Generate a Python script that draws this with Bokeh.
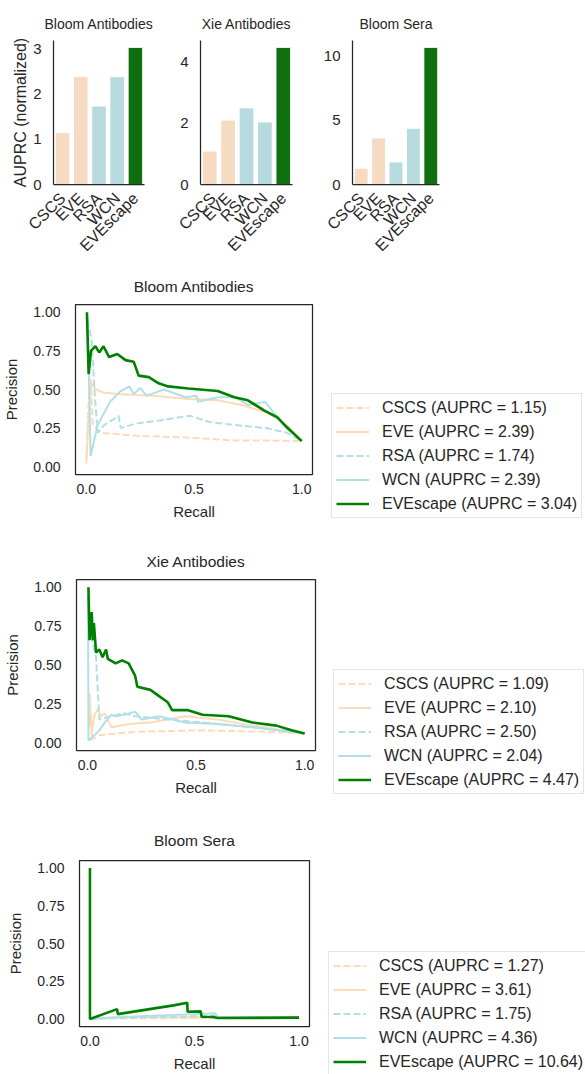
import math
from bokeh.plotting import figure
from bokeh.models import Legend, LegendItem, Range1d, FixedTicker, NumeralTickFormatter
from bokeh.layouts import column, row
from bokeh.embed import file_html
from bokeh.resources import INLINE

# ---------------- data ----------------
methods = ["CSCS", "EVE", "RSA", "WCN", "EVEscape"]
panel_titles = ["Bloom Antibodies", "Xie Antibodies", "Bloom Sera"]
bloom_ab_auprc = [1.15, 2.39, 1.74, 2.39, 3.04]
xie_ab_auprc = [1.09, 2.10, 2.50, 2.04, 4.47]
bloom_sera_auprc = [1.27, 3.61, 1.75, 4.36, 10.64]
bar_yticks = [[0, 1, 2, 3], [0, 2, 4], [0, 5, 10]]

# Bloom antibodies PR curves
ba_cscs_r = [0.0, 0.012, 0.02, 0.03, 0.07, 0.15, 0.23, 0.35, 0.46, 0.58, 0.69, 0.85, 1.0]
ba_cscs_p = [0.05, 0.45, 0.57, 0.27, 0.22, 0.21, 0.20, 0.195, 0.19, 0.18, 0.17, 0.17, 0.165]
ba_eve_r = [0.0, 0.01, 0.018, 0.026, 0.045, 0.08, 0.16, 0.31, 0.46, 0.61, 0.72, 0.84, 0.93, 1.0]
ba_eve_p = [0.02, 0.30, 0.45, 0.54, 0.50, 0.48, 0.47, 0.46, 0.44, 0.43, 0.40, 0.35, 0.27, 0.17]
ba_rsa_r = [0.005, 0.015, 0.026, 0.04, 0.053, 0.083, 0.13, 0.15, 0.16, 0.23, 0.34, 0.48, 0.57, 0.69, 0.84, 0.93, 1.0]
ba_rsa_p = [0.95, 0.89, 0.80, 0.45, 0.22, 0.27, 0.31, 0.33, 0.25, 0.28, 0.30, 0.33, 0.29, 0.27, 0.25, 0.22, 0.17]
ba_wcn_r = [0.005, 0.012, 0.02, 0.053, 0.11, 0.16, 0.20, 0.22, 0.25, 0.28, 0.36, 0.46, 0.51, 0.52, 0.61, 0.69, 0.75, 0.83, 0.87, 0.93, 1.0]
ba_wcn_p = [0.98, 0.60, 0.07, 0.27, 0.42, 0.49, 0.52, 0.47, 0.51, 0.46, 0.50, 0.45, 0.46, 0.42, 0.45, 0.45, 0.40, 0.42, 0.35, 0.25, 0.17]
ba_eves_r = [0.003, 0.011, 0.022, 0.042, 0.06, 0.08, 0.106, 0.144, 0.182, 0.22, 0.243, 0.29, 0.336, 0.38, 0.473, 0.61, 0.687, 0.75, 0.825, 0.887, 0.93, 1.0]
ba_eves_p = [1.0, 0.60, 0.75, 0.78, 0.74, 0.78, 0.71, 0.73, 0.69, 0.68, 0.59, 0.58, 0.54, 0.52, 0.506, 0.49, 0.45, 0.43, 0.365, 0.32, 0.257, 0.166]

# Xie antibodies PR curves
xa_cscs_r = [0.01, 0.06, 0.22, 0.53, 0.83, 1.0]
xa_cscs_p = [0.015, 0.05, 0.07, 0.08, 0.07, 0.06]
xa_eve_r = [0.008, 0.01, 0.02, 0.03, 0.05, 0.06, 0.08, 0.11, 0.19, 0.29, 0.45, 0.60, 0.76, 1.0]
xa_eve_p = [0.10, 0.32, 0.04, 0.17, 0.22, 0.17, 0.19, 0.10, 0.12, 0.13, 0.17, 0.15, 0.11, 0.06]
xa_rsa_r = [0.005, 0.025, 0.04, 0.055, 0.11, 0.17, 0.22, 0.37, 0.53, 0.68, 1.0]
xa_rsa_p = [0.82, 0.64, 0.55, 0.15, 0.17, 0.19, 0.17, 0.15, 0.13, 0.11, 0.06]
xa_wcn_r = [0.003, 0.005, 0.05, 0.08, 0.11, 0.13, 0.17, 0.22, 0.25, 0.33, 0.45, 0.60, 0.76, 1.0]
xa_wcn_p = [0.95, 0.015, 0.07, 0.13, 0.18, 0.17, 0.18, 0.20, 0.15, 0.17, 0.13, 0.12, 0.10, 0.06]
xa_eves_r = [0.005, 0.01, 0.02, 0.025, 0.03, 0.04, 0.055, 0.07, 0.086, 0.094, 0.13, 0.16, 0.19, 0.22, 0.23, 0.29, 0.33, 0.37, 0.39, 0.46, 0.53, 0.65, 0.76, 0.87, 0.94, 1.0]
xa_eves_p = [1.0, 0.66, 0.84, 0.66, 0.77, 0.58, 0.60, 0.55, 0.60, 0.54, 0.51, 0.53, 0.51, 0.43, 0.36, 0.34, 0.30, 0.26, 0.21, 0.21, 0.18, 0.17, 0.13, 0.11, 0.08, 0.06]

# Bloom sera PR curves
bs_cscs_r = [0.0, 0.5, 1.0]
bs_cscs_p = [0.004, 0.006, 0.009]
bs_eve_r = [0.0, 0.2, 0.5, 1.0]
bs_eve_p = [0.003, 0.012, 0.012, 0.009]
bs_rsa_r = [0.0, 0.3, 0.6, 0.62, 1.0]
bs_rsa_p = [0.002, 0.012, 0.022, 0.008, 0.009]
bs_wcn_r = [0.0, 0.1, 0.3, 0.5, 0.6, 0.61, 1.0]
bs_wcn_p = [0.0, 0.01, 0.022, 0.032, 0.037, 0.012, 0.009]
bs_eves_r = [0.0, 0.0, 0.13, 0.133, 0.40, 0.465, 0.467, 0.53, 0.534, 0.59, 0.61, 1.0]
bs_eves_p = [1.0, 0.0, 0.065, 0.032, 0.09, 0.108, 0.048, 0.05, 0.015, 0.013, 0.006, 0.009]

auprc_labels = [bloom_ab_auprc, xie_ab_auprc, bloom_sera_auprc]
curves = [
    [(ba_cscs_r, ba_cscs_p), (ba_eve_r, ba_eve_p), (ba_rsa_r, ba_rsa_p), (ba_wcn_r, ba_wcn_p), (ba_eves_r, ba_eves_p)],
    [(xa_cscs_r, xa_cscs_p), (xa_eve_r, xa_eve_p), (xa_rsa_r, xa_rsa_p), (xa_wcn_r, xa_wcn_p), (xa_eves_r, xa_eves_p)],
    [(bs_cscs_r, bs_cscs_p), (bs_eve_r, bs_eve_p), (bs_rsa_r, bs_rsa_p), (bs_wcn_r, bs_wcn_p), (bs_eves_r, bs_eves_p)],
]

# ---------------- style ----------------
FONT = "Liberation Sans"
TXT = "#262626"
bar_colors = ["#F6DBC2", "#F6DBC2", "#B7DADF", "#B7DADF", "#107010"]
line_colors = ["#FFDAB9", "#FFDAB9", "#B0E0E6", "#B0E0E6", "#008000"]
line_dashes = ["7 3", "solid", "7 3", "solid", "solid"]
line_widths = [2, 2, 2, 2, 2.6]


def style_common(p, title_standoff, title_size="14px", tick_size="14px", label_size="15px"):
    p.title.text_font = FONT
    p.title.text_font_size = title_size
    p.title.text_font_style = "normal"
    p.title.text_color = TXT
    p.title.align = "center"
    p.title.vertical_align = "top"
    p.title.standoff = title_standoff
    p.xgrid.visible = False
    p.ygrid.visible = False
    for ax in (p.xaxis[0], p.yaxis[0]):
        ax.major_tick_line_color = None
        ax.minor_tick_line_color = None
        ax.major_label_text_font = FONT
        ax.major_label_text_font_size = tick_size
        ax.major_label_text_color = TXT
        ax.axis_label_text_font = FONT
        ax.axis_label_text_font_size = label_size
        ax.axis_label_text_font_style = "normal"
        ax.axis_label_text_color = TXT
    p.background_fill_color = "white"
    p.border_fill_color = "white"


# ---------------- bar charts ----------------
bar_data = [bloom_ab_auprc, xie_ab_auprc, bloom_sera_auprc]
bar_geom = [(175, 53, 31), (145, 25, 28), (265, 27, 146)]
bar_figs = []
for i in range(3):
    w, ml, mr = bar_geom[i]
    ymax = max(bar_data[i]) * 1.05
    p = figure(width=w, height=263, x_range=methods, y_range=Range1d(0, ymax),
               min_border_left=ml, min_border_right=mr, min_border_top=40, min_border_bottom=79,
               output_backend="svg", toolbar_location=None, title=panel_titles[i])
    p.vbar(x=methods, top=bar_data[i], width=0.8, fill_color=bar_colors, line_color="white", line_width=1)
    style_common(p, 14, tick_size="15px", label_size="16px")
    p.outline_line_color = None
    p.x_range.range_padding = 0
    for ax in (p.xaxis[0], p.yaxis[0]):
        ax.axis_line_color = TXT
        ax.axis_line_width = 1.25
        ax.major_label_standoff = 6
    p.xaxis.major_label_text_font_size = "16px"
    p.xaxis.major_label_standoff = 5
    p.yaxis.ticker = FixedTicker(ticks=bar_yticks[i])
    p.xaxis.major_label_orientation = math.pi / 4
    if i == 0:
        p.yaxis.axis_label = "AUPRC (normalized)"
        p.yaxis.axis_label_standoff = 1
    bar_figs.append(p)

# ---------------- PR curves ----------------
pr_geom = [
    # height, left, right, top, bottom, title standoff, legend (x, y)
    (278, 73, 8, 41, 67, 15, (11, 23)),
    (277, 76, 5, 38, 68, 15, (13, 24)),
    (256, 79, 11, 42, 44, 19, (8, -2)),
]
rows = []
for i in range(3):
    h, ml, mr, mt, mb, ts, loc = pr_geom[i]
    p = figure(width=320, height=h, x_range=Range1d(-0.05, 1.05), y_range=Range1d(-0.05, 1.05),
               min_border_left=ml, min_border_right=mr, min_border_top=mt, min_border_bottom=mb,
               output_backend="svg", toolbar_location=None, title=panel_titles[i])
    q = figure(width=265, height=h, x_range=Range1d(0, 1), y_range=Range1d(0, 1),
               x_axis_type=None, y_axis_type=None, min_border=0,
               output_backend="svg", toolbar_location=None)
    q.outline_line_color = None
    q.xgrid.visible = False
    q.ygrid.visible = False
    q.background_fill_color = "white"
    q.border_fill_color = "white"
    items = []
    for j in range(5):
        r, pr = curves[i][j]
        p.line(r, pr, line_color=line_colors[j], line_dash=line_dashes[j], line_width=line_widths[j])
        # legend sample lives in the side figure; its data lies outside that figure's range
        sample = q.line([5, 6], [5, 6], line_color=line_colors[j], line_dash=line_dashes[j], line_width=line_widths[j])
        items.append(LegendItem(label=f"{methods[j]} (AUPRC = {auprc_labels[i][j]:.2f})", renderers=[sample]))
    style_common(p, ts, title_size="15.5px")
    p.outline_line_color = TXT
    p.outline_line_width = 1.25
    p.xaxis.axis_line_color = None
    p.yaxis.axis_line_color = None
    p.xaxis.ticker = FixedTicker(ticks=[0.0, 0.5, 1.0])
    p.yaxis.ticker = FixedTicker(ticks=[0.0, 0.25, 0.5, 0.75, 1.0])
    p.xaxis.formatter = NumeralTickFormatter(format="0.0")
    p.yaxis.formatter = NumeralTickFormatter(format="0.00")
    p.xaxis.axis_label = "Recall"
    p.yaxis.axis_label = "Precision"
    p.xaxis.major_label_standoff = 3
    p.yaxis.major_label_standoff = 9
    p.xaxis.axis_label_standoff = 6
    p.yaxis.axis_label_standoff = 10
    leg = Legend(items=items, location=loc)
    leg.label_text_font = FONT
    leg.label_text_font_size = "16px"
    leg.label_text_color = TXT
    leg.border_line_color = "#cccccc"
    leg.border_line_width = 1
    leg.background_fill_color = "white"
    leg.background_fill_alpha = 1
    leg.glyph_width = 33
    leg.glyph_height = 19
    leg.label_height = 19
    leg.spacing = 5
    leg.padding = 4
    leg.margin = 0
    leg.label_standoff = 13
    q.add_layout(leg, "center")
    rows.append(row(p, column(q), spacing=0))

layout = column(row(*bar_figs, spacing=0), *rows, spacing=0)
open("out.html", "w").write(file_html(layout, INLINE))
